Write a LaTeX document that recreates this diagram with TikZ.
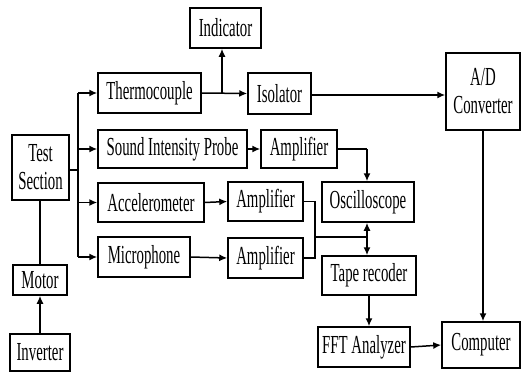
\documentclass[tikz,border=0pt]{standalone}
\usepackage{fontspec}
\setmainfont[FakeStretch=0.57]{Liberation Serif}
\usetikzlibrary{arrows.meta}
\begin{document}
\begin{tikzpicture}[x=1pt,y=-1pt,
  box/.style={draw,line width=1.5pt,inner sep=0pt,align=center,
    font=\fontsize{26}{28}\selectfont},
  ln/.style={line width=1.5pt},
  arr/.style={line width=1.5pt,-{Latex[length=8pt,width=7pt]}}]
\useasboundingbox (0,0) rectangle (521,372);
\node[box,minimum width=71pt,minimum height=40pt] (ind) at (225.5,28) {Indicator};
\node[box,minimum width=103pt,minimum height=40pt] (thermo) at (149.5,93) {Thermocouple};
\node[box,minimum width=63pt,minimum height=41pt] (iso) at (279.5,93.5) {Isolator};
\node[box,minimum width=74pt,minimum height=77pt] (ad) at (483,91.5) {A/D\\Converter};
\node[box,minimum width=149pt,minimum height=38pt] (sip) at (172.5,149) {Sound Intensity Probe};
\node[box,minimum width=76pt,minimum height=38pt] (amp1) at (299,149) {Amplifier};
\node[box,minimum width=57pt,minimum height=65pt] (ts) at (40.5,167.5) {Test\\Section};
\node[box,minimum width=106pt,minimum height=39pt] (acc) at (151,202.5) {Accelerometer};
\node[box,minimum width=75pt,minimum height=39pt] (amp2) at (265.5,201.5) {Amplifier};
\node[box,minimum width=92pt,minimum height=40pt] (osc) at (368,202) {Oscilloscope};
\node[box,minimum width=92pt,minimum height=40pt] (mic) at (144,257) {Microphone};
\node[box,minimum width=75pt,minimum height=40pt] (amp3) at (265.5,258) {Amplifier};
\node[box,minimum width=94pt,minimum height=39pt] (tape) at (369,275.5) {Tape recoder};
\node[box,minimum width=54pt,minimum height=30pt] (motor) at (40,280) {Motor};
\node[box,minimum width=60pt,minimum height=37pt] (inv) at (40,352.5) {Inverter};
\node[box,minimum width=92pt,minimum height=40pt] (fft) at (364,347) {FFT Analyzer};
\node[box,minimum width=78pt,minimum height=46pt] (comp) at (481,345) {Computer};
% bus from test section
\coordinate (bus) at (78,170);
\draw[ln] (ts.east |- bus) -- (bus);
\draw[ln] (bus |- thermo.west) -- (bus |- mic.west);
\draw[arr] (bus |- thermo.west) -- (thermo.west);
\draw[arr] (bus |- sip.west) -- (sip.west);
\draw[arr] (bus |- acc.west) -- (acc.west);
\draw[arr] (bus |- mic.west) -- (mic.west);
% motor, inverter
\draw[ln] (motor.north) -- (motor.north |- ts.south);
\draw[arr] (inv.north) -- (motor.south);
% thermocouple chain
\coordinate (j1) at (222,93);
\draw[arr] (thermo.east) -- (iso.west);
\draw[arr] (j1) -- (j1 |- ind.south);
\coordinate (isoout) at (311,95);
\draw[arr] (iso.east |- isoout) -- (isoout -| ad.west);
% sound intensity
\draw[arr] (sip.east) -- (amp1.west);
\coordinate (c1) at (367,149);
\draw[ln] (amp1.east) -- (c1);
\draw[arr] (c1) -- (c1 |- osc.north);
% accel, mic
\draw[arr] (acc.east) -- (amp2.west);
\draw[arr] (mic.east) -- (amp3.west);
\coordinate (m) at (315,237);
\coordinate (j2) at (367,237);
\draw[ln] (amp2.east) -| (m) |- (amp3.east);
\draw[ln] (m) -- (j2);
\draw[arr] (j2) -- (j2 |- osc.south);
\draw[arr] (j2) -- (j2 |- tape.north);
% tape, fft, computer
\draw[arr] (tape.south) -- (tape.south |- fft.north);
\draw[arr] (fft.east) -- (comp.west);
\draw[arr] (ad.south) -- (ad.south |- comp.north);
\end{tikzpicture}
\end{document}
